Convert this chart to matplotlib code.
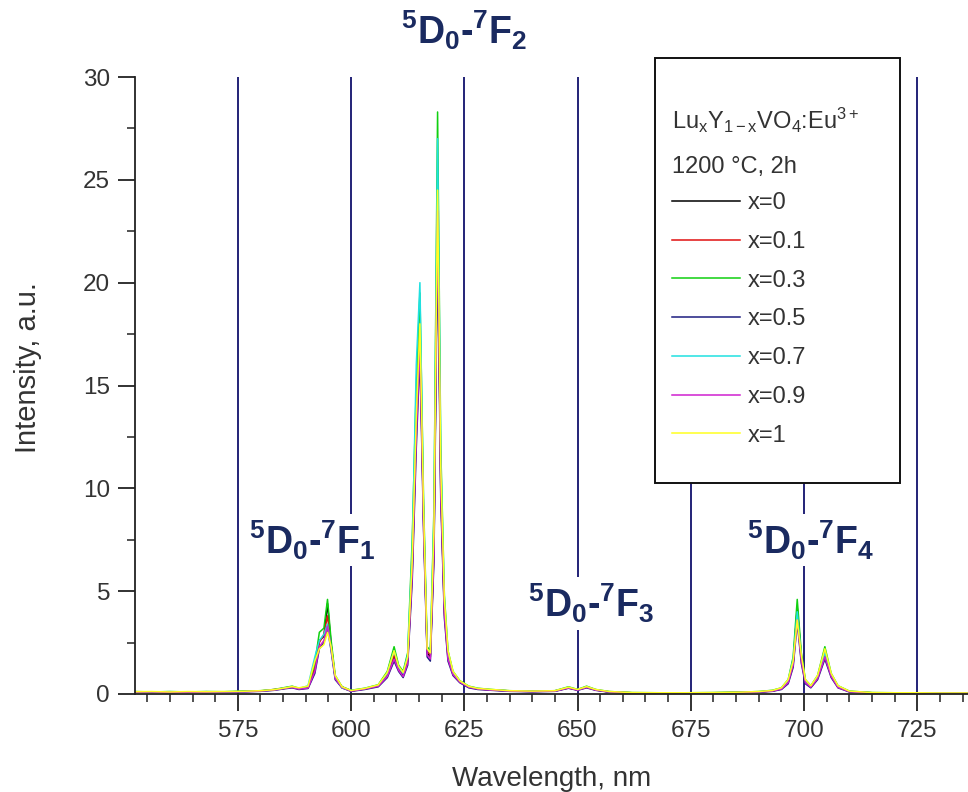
import matplotlib
matplotlib.use('Agg')
import matplotlib.pyplot as plt
from matplotlib.patches import Rectangle
from matplotlib.ticker import MultipleLocator

plt.rcParams['font.family'] = ['Liberation Sans', 'DejaVu Sans']
plt.rcParams['mathtext.fontset'] = 'custom'
plt.rcParams['mathtext.rm'] = 'Liberation Sans'
plt.rcParams['mathtext.it'] = 'Liberation Sans:italic'
plt.rcParams['mathtext.bf'] = 'Liberation Sans:bold'

# ---------------- data ----------------
wavelength = [552, 556, 560, 564, 568, 572, 576, 580, 583, 585.5,
              587, 588.5, 590.5, 592, 593, 594, 594.8, 595.6, 596.5, 598,
              600, 603, 606, 608, 609.5, 610.5, 611.5, 612.5, 613.5, 614.4,
              615.2, 616, 616.8, 617.5, 618.3, 619.1, 619.8, 620.6, 621.4, 622.5,
              624, 626, 628, 631, 635, 640, 645, 648, 650, 652,
              654, 657, 662, 668, 674, 680, 686, 690, 693, 695,
              696.5, 697.6, 698.5, 699.4, 700.3, 701.5, 703, 704.6, 706, 707.5,
              710, 715, 720, 725, 730, 736]

int_x0 = [0.08, 0.10, 0.07, 0.10, 0.08, 0.10, 0.12, 0.15, 0.20, 0.30,
          0.35, 0.25, 0.30, 1.2, 2.6, 2.8, 4.4, 2.4, 0.8, 0.35,
          0.15, 0.25, 0.4, 0.9, 1.8, 1.2, 0.9, 1.6, 6.0, 13.0,
          17.2, 8.5, 2.0, 1.8, 7.0, 23.0, 10.0, 4.0, 1.8, 1.0,
          0.6, 0.35, 0.25, 0.2, 0.15, 0.12, 0.15, 0.3, 0.2, 0.35,
          0.2, 0.1, 0.06, 0.05, 0.05, 0.06, 0.08, 0.1, 0.15, 0.25,
          0.6, 1.5, 4.2, 1.8, 0.6, 0.35, 0.8, 1.8, 0.9, 0.35,
          0.12, 0.06, 0.05, 0.05, 0.04, 0.04]
int_x01 = [0.10, 0.08, 0.10, 0.08, 0.11, 0.09, 0.12, 0.14, 0.22, 0.28,
           0.33, 0.25, 0.32, 1.3, 2.5, 2.9, 3.8, 2.3, 0.8, 0.30,
           0.15, 0.25, 0.4, 0.9, 1.9, 1.2, 1.0, 1.7, 6.3, 13.5,
           18.0, 8.8, 2.1, 1.9, 7.5, 25.0, 10.5, 4.2, 1.9, 1.0,
           0.6, 0.35, 0.25, 0.2, 0.15, 0.13, 0.15, 0.3, 0.2, 0.33,
           0.2, 0.1, 0.06, 0.05, 0.06, 0.05, 0.08, 0.1, 0.15, 0.25,
           0.6, 1.5, 3.8, 1.7, 0.6, 0.35, 0.8, 2.0, 0.9, 0.35,
           0.12, 0.06, 0.05, 0.05, 0.04, 0.05]
int_x03 = [0.12, 0.10, 0.12, 0.10, 0.12, 0.11, 0.14, 0.16, 0.22, 0.32,
           0.38, 0.28, 0.35, 1.5, 3.0, 3.2, 4.6, 2.6, 0.9, 0.35,
           0.18, 0.28, 0.45, 1.1, 2.3, 1.4, 1.1, 2.0, 7.5, 15.0,
           19.5, 9.5, 2.3, 2.1, 9.0, 28.3, 12.0, 4.8, 2.1, 1.1,
           0.65, 0.38, 0.28, 0.22, 0.16, 0.14, 0.16, 0.35, 0.22, 0.38,
           0.22, 0.12, 0.07, 0.06, 0.06, 0.07, 0.09, 0.12, 0.18, 0.3,
           0.7, 1.8, 4.6, 2.0, 0.7, 0.4, 0.9, 2.3, 1.0, 0.4,
           0.14, 0.07, 0.06, 0.06, 0.05, 0.05]
int_x05 = [0.08, 0.09, 0.07, 0.09, 0.08, 0.09, 0.11, 0.13, 0.18, 0.26,
           0.3, 0.22, 0.27, 1.0, 2.2, 2.5, 3.2, 2.1, 0.7, 0.3,
           0.13, 0.22, 0.35, 0.8, 1.6, 1.1, 0.8, 1.4, 5.5, 12.0,
           16.5, 8.0, 1.8, 1.6, 6.5, 22.0, 9.5, 3.7, 1.6, 0.9,
           0.55, 0.3, 0.22, 0.18, 0.13, 0.11, 0.13, 0.28, 0.18, 0.3,
           0.18, 0.09, 0.05, 0.05, 0.04, 0.05, 0.07, 0.09, 0.13, 0.22,
           0.5, 1.3, 3.5, 1.5, 0.5, 0.3, 0.7, 1.7, 0.8, 0.3,
           0.1, 0.05, 0.04, 0.04, 0.04, 0.03]
int_x07 = [0.10, 0.11, 0.09, 0.10, 0.10, 0.11, 0.12, 0.15, 0.2, 0.3,
           0.34, 0.27, 0.4, 1.8, 2.6, 2.9, 3.4, 2.2, 0.8, 0.3,
           0.16, 0.26, 0.42, 1.0, 2.1, 1.3, 1.0, 1.9, 7.0, 16.0,
           20.0, 9.0, 2.2, 2.0, 8.5, 27.0, 11.5, 4.5, 2.0, 1.05,
           0.62, 0.36, 0.26, 0.21, 0.15, 0.13, 0.15, 0.32, 0.21, 0.35,
           0.21, 0.11, 0.06, 0.05, 0.05, 0.06, 0.08, 0.11, 0.16, 0.28,
           0.65, 1.7, 4.0, 1.8, 0.65, 0.38, 0.85, 2.0, 0.95, 0.38,
           0.13, 0.06, 0.05, 0.05, 0.05, 0.04]
int_x09 = [0.09, 0.10, 0.08, 0.09, 0.09, 0.10, 0.11, 0.14, 0.19, 0.28,
           0.32, 0.24, 0.29, 1.1, 2.3, 2.6, 3.3, 2.2, 0.75, 0.32,
           0.14, 0.24, 0.38, 0.85, 1.7, 1.15, 0.85, 1.5, 5.8, 12.5,
           17.0, 8.2, 1.9, 1.7, 6.8, 23.5, 9.8, 3.9, 1.7, 0.95,
           0.58, 0.33, 0.24, 0.19, 0.14, 0.12, 0.14, 0.29, 0.19, 0.32,
           0.19, 0.1, 0.05, 0.05, 0.05, 0.05, 0.07, 0.1, 0.14, 0.24,
           0.55, 1.4, 3.6, 1.6, 0.55, 0.33, 0.75, 1.8, 0.85, 0.32,
           0.11, 0.05, 0.05, 0.04, 0.04, 0.04]
int_x1 = [0.11, 0.12, 0.10, 0.12, 0.11, 0.12, 0.13, 0.16, 0.21, 0.3,
          0.36, 0.3, 0.38, 1.6, 2.2, 2.4, 3.0, 2.3, 0.9, 0.35,
          0.17, 0.27, 0.44, 1.05, 2.1, 1.35, 1.05, 1.8, 6.5, 13.5,
          18.0, 9.0, 2.2, 2.0, 8.0, 24.5, 11.0, 4.6, 2.1, 1.1,
          0.64, 0.37, 0.27, 0.22, 0.16, 0.14, 0.16, 0.33, 0.22, 0.36,
          0.22, 0.12, 0.07, 0.06, 0.06, 0.07, 0.09, 0.12, 0.17, 0.3,
          0.7, 1.6, 3.6, 1.9, 0.7, 0.4, 0.9, 2.2, 1.0, 0.4,
          0.14, 0.07, 0.06, 0.06, 0.05, 0.05]

series_labels = ['x=0', 'x=0.1', 'x=0.3', 'x=0.5', 'x=0.7', 'x=0.9', 'x=1']
series_values = [int_x0, int_x01, int_x03, int_x05, int_x07, int_x09, int_x1]
series_colors = ['#000000', '#e01010', '#10d010', '#1c1c80', '#20e0e0', '#d020d0', '#ffff20']

guide_lines = [575, 600, 625, 650, 675, 700, 725]
transition_labels = [r'$^{\mathbf{5}}$D$_{\mathbf{0}}$-$^{\mathbf{7}}$F$_{\mathbf{1}}$',
                     r'$^{\mathbf{5}}$D$_{\mathbf{0}}$-$^{\mathbf{7}}$F$_{\mathbf{2}}$',
                     r'$^{\mathbf{5}}$D$_{\mathbf{0}}$-$^{\mathbf{7}}$F$_{\mathbf{3}}$',
                     r'$^{\mathbf{5}}$D$_{\mathbf{0}}$-$^{\mathbf{7}}$F$_{\mathbf{4}}$']
transition_pos = [(591.5, 7.5), (625, 32.3), (653, 4.4), (701.5, 7.5)]

# ---------------- figure ----------------
W, H = 968, 792
fig = plt.figure(figsize=(W / 100, H / 100), dpi=100)
ax = fig.add_axes([135 / W, 1 - 694 / H, (968 - 135) / W, (694 - 77) / H])

navy = '#222277'
text_gray = '#333333'

for g in guide_lines:
    ax.axvline(g, color=navy, lw=1.4, zorder=1)

lines = []
for vals, lab, col in zip(series_values, series_labels, series_colors):
    ln, = ax.plot(wavelength, vals, color=col, lw=1.1, label=lab, zorder=2)
    lines.append(ln)

for txt, (xx, yy) in zip(transition_labels, transition_pos):
    ax.text(xx, yy, txt, ha='center', va='center', fontsize=27, fontweight='bold',
            color='#1a2a60', zorder=8, clip_on=False,
            bbox=dict(facecolor='white', edgecolor='none', pad=3))

ax.set_xlim(552.3, 736.2)
ax.set_ylim(0, 30)
ax.xaxis.set_major_locator(MultipleLocator(25))
ax.xaxis.set_minor_locator(MultipleLocator(5))
ax.yaxis.set_major_locator(MultipleLocator(5))
ax.yaxis.set_minor_locator(MultipleLocator(2.5))

for s in ['top', 'right']:
    ax.spines[s].set_visible(False)
for s in ['left', 'bottom']:
    ax.spines[s].set_linewidth(1.3)
    ax.spines[s].set_color('#222222')

ax.tick_params(axis='both', which='major', direction='out', length=12, width=1.3,
               color='#222222', labelcolor=text_gray, labelsize=17.5)
ax.tick_params(axis='x', which='major', pad=7)
ax.tick_params(axis='y', which='major', pad=6)
ax.tick_params(axis='both', which='minor', direction='out', length=6, width=1.1,
               color='#222222')

ax.set_xlabel('Wavelength, nm', fontsize=20, color=text_gray)
ax.xaxis.set_label_coords(0.5, (694 - 766) / 617)
ax.set_ylabel('Intensity, a.u.', fontsize=21, color=text_gray)
ax.yaxis.set_label_coords((42 - 135) / 833, (694 - 368) / 617)

# legend box
rect = Rectangle((655 / W, 1 - 483 / H), 245 / W, 425 / H, transform=fig.transFigure,
                 facecolor='white', edgecolor='#111111', lw=1.4, zorder=6, clip_on=False)
ax.add_patch(rect)

fig.text(672 / W, 1 - 120 / H,
         r'Lu$_{\mathregular{x}}$Y$_{\mathregular{1-x}}$VO$_{\mathregular{4}}$:Eu$^{\mathregular{3+}}$',
         fontsize=17, color=text_gray, ha='left', va='center', zorder=7)
fig.text(672 / W, 1 - 167 / H, '1200 °C, 2h', fontsize=17, color=text_gray,
         ha='left', va='center', zorder=7)

leg = ax.legend(handles=lines, loc='upper left', bbox_to_anchor=(672 / W, 1 - 192 / H),
                bbox_transform=fig.transFigure, frameon=False, fontsize=17,
                handlelength=2.88, handletextpad=0.34, labelspacing=0.71, borderpad=0,
                borderaxespad=0)
leg.set_zorder(7)
for t in leg.get_texts():
    t.set_color(text_gray)

fig.savefig('out.png', dpi=100)
